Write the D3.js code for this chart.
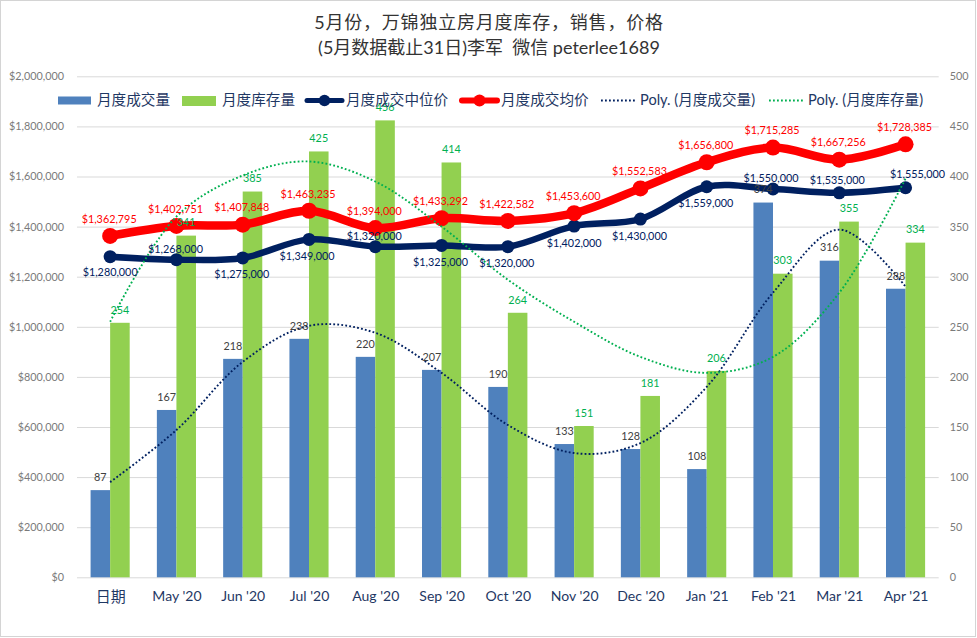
<!DOCTYPE html>
<html>
<head>
<meta charset="utf-8">
<script src="https://cdn.jsdelivr.net/npm/d3@7"></script>
<style>
	html, body { margin: 0; padding: 0; background: #ffffff; }
	svg { display: block; }
	text { font-family: Lato, "Noto Sans CJK SC", sans-serif; }
</style>
</head>
<body>
<div id="chart"></div>
<script>
var categories = ["日期", "May '20", "Jun '20", "Jul '20", "Aug '20", "Sep '20", "Oct '20", "Nov '20", "Dec '20", "Jan '21", "Feb '21", "Mar '21", "Apr '21"];
var sales = [87, 167, 218, 238, 220, 207, 190, 133, 128, 108, 374, 316, 288];
var inventory = [254, 341, 385, 425, 456, 414, 264, 151, 181, 206, 303, 355, 334];
var medianPrice = [1280000, 1268000, 1275000, 1349000, 1320000, 1325000, 1320000, 1402000, 1430000, 1559000, 1550000, 1535000, 1555000];
var averagePrice = [1362795, 1402751, 1407848, 1463235, 1394000, 1433292, 1422582, 1453600, 1552583, 1656800, 1715285, 1667256, 1728385];
// trend lines, one value per month, secondary axis units
var salesTrend = [95, 147, 215, 251, 244, 204, 152, 124, 134, 190, 284, 347, 290];
var inventoryTrend = [255, 360, 401, 415, 395, 350, 297, 255, 220, 204, 220, 284, 398];
var priceTicks = [0, 200000, 400000, 600000, 800000, 1000000, 1200000, 1400000, 1600000, 1800000, 2000000];
var countTicks = [0, 50, 100, 150, 200, 250, 300, 350, 400, 450, 500];
var titleLines = ["5月份，万锦独立房月度库存，销售，价格", "(5月数据截止31日)李军  微信 peterlee1689"];
var legendNames = ["月度成交量", "月度库存量", "月度成交中位价", "月度成交均价", "Poly. (月度成交量)", "Poly. (月度库存量)"];

var w = 977;
var h = 638;
var left = 77, right = 938.7, top_ = 76.3, bottom = 577.3;

var BLUE = "#4f81bd", GREEN = "#92d050", NAVY = "#002060", RED = "#ff0000", TREND_GREEN = "#00b050";
var LEGEND_TEXT = "#1f3864", AXIS_TEXT = "#7a7a7a", GRID = "#d9d9d9";

var svg = d3.select("#chart")
	.append("svg")
		.attr("width", w)
		.attr("height", h);

// outer chart frame
svg.append("rect")
	.attr("x", 0.5).attr("y", 0.5)
	.attr("width", w - 2).attr("height", h - 2)
	.attr("fill", "#ffffff")
	.attr("stroke", "#d4d4d4");

var x = d3.scaleBand().domain(categories).range([left, right]).paddingInner(0.41).paddingOuter(0.205);
var xSub = d3.scaleBand().domain(["sales", "inventory"]).range([0, x.bandwidth()]);
var yPrice = d3.scaleLinear().domain([0, 2000000]).range([bottom, top_]);
var yCount = d3.scaleLinear().domain([0, 500]).range([bottom, top_]);

function center(i) { return x(categories[i]) + x.bandwidth() / 2; }

// title
svg.selectAll("text.title")
	.data(titleLines)
	.enter()
	.append("text")
		.attr("class", "title")
		.attr("x", 489)
		.attr("y", function(d, i) { return 29 + i * 25; })
		.attr("text-anchor", "middle")
		.attr("font-size", 18)
		.attr("letter-spacing", function(d, i) { return i == 0 ? 0.8 : 0; })
		.attr("fill", "#333333")
		.attr("xml:space", "preserve")
		.text(function(d) { return d; });

// axes and grid
var leftAxis = d3.axisLeft(yPrice).tickValues(priceTicks).tickFormat(d3.format("$,")).tickSize(-(right - left)).tickPadding(13);
var gLeft = svg.append("g").attr("transform", "translate(" + left + ",0)").call(leftAxis);
gLeft.select(".domain").remove();
gLeft.selectAll("line").attr("stroke", GRID).attr("stroke-width", 1);
gLeft.selectAll("text").attr("fill", AXIS_TEXT).attr("font-size", 10.8);

var rightAxis = d3.axisRight(yCount).tickValues(countTicks).tickSize(0).tickPadding(11);
var gRight = svg.append("g").attr("transform", "translate(" + right + ",0)").call(rightAxis);
gRight.select(".domain").remove();
gRight.selectAll("text").attr("fill", AXIS_TEXT).attr("font-size", 10.8);

var bottomAxis = d3.axisBottom(d3.scalePoint().domain(categories).range([left + (right - left) / 26, right - (right - left) / 26])).tickSize(0).tickPadding(14);
var gBottom = svg.append("g").attr("transform", "translate(0," + bottom + ")").call(bottomAxis);
gBottom.select(".domain").remove();
gBottom.selectAll("text")
	.attr("fill", LEGEND_TEXT)
	.attr("font-size", function(d, i) { return i == 0 ? 15 : 14; });

// bars
svg.selectAll("rect.sales")
	.data(sales)
	.enter()
	.append("rect")
		.attr("class", "sales")
		.attr("x", function(d, i) { return x(categories[i]) + xSub("sales"); })
		.attr("y", function(d) { return yCount(d); })
		.attr("width", xSub.bandwidth())
		.attr("height", function(d) { return bottom - yCount(d); })
		.attr("fill", BLUE);

svg.selectAll("rect.inventory")
	.data(inventory)
	.enter()
	.append("rect")
		.attr("class", "inventory")
		.attr("x", function(d, i) { return x(categories[i]) + xSub("inventory"); })
		.attr("y", function(d) { return yCount(d); })
		.attr("width", xSub.bandwidth())
		.attr("height", function(d) { return bottom - yCount(d); })
		.attr("fill", GREEN);

// price lines
function drawPriceLine(values, color, lineW, r) {
	var line = d3.line()
		.x(function(d, i) { return center(i); })
		.y(function(d) { return yPrice(d); })
		.curve(d3.curveCatmullRom.alpha(0.5));
	svg.append("path")
		.datum(values)
		.attr("d", line)
		.attr("fill", "none")
		.attr("stroke", color)
		.attr("stroke-width", lineW)
		.attr("stroke-linecap", "round");
	svg.append("g").selectAll("circle")
		.data(values)
		.enter()
		.append("circle")
			.attr("cx", function(d, i) { return center(i); })
			.attr("cy", function(d) { return yPrice(d); })
			.attr("r", r)
			.attr("fill", color);
}
drawPriceLine(medianPrice, NAVY, 6.5, 6.5);
drawPriceLine(averagePrice, RED, 8.5, 8);

// trend lines
function drawTrend(values, color) {
	var line = d3.line()
		.x(function(d, i) { return center(i); })
		.y(function(d) { return yCount(d); })
		.curve(d3.curveCatmullRom.alpha(0.5));
	svg.append("path")
		.datum(values)
		.attr("d", line)
		.attr("fill", "none")
		.attr("stroke", color)
		.attr("stroke-width", 1.9)
		.attr("stroke-dasharray", "1.8 2.2");
}
drawTrend(salesTrend, NAVY);
drawTrend(inventoryTrend, TREND_GREEN);

// data labels
var priceFmt = d3.format("$,");
var medianDy = [16, -10, 16, 17, -10, 17, 17, 17, 17, 16, -11, -13, -14];
var medianDx = [0, -1, -1, -2, -1, -1, -1, 0, -1, -1, -2, -2, 12];

function addLabels(values, xFn, yFn, fmt, color, size) {
	svg.append("g").selectAll("text")
		.data(values)
		.enter()
		.append("text")
			.attr("x", xFn)
			.attr("y", yFn)
			.attr("dy", "0.35em")
			.attr("text-anchor", "middle")
			.attr("font-size", size)
			.attr("fill", color)
			.text(fmt);
}
addLabels(sales,
	function(d, i) { return x(categories[i]) + xSub("sales") + xSub.bandwidth() / 2; },
	function(d) { return yCount(d) - 13; },
	function(d) { return d; }, "#404040", 10.8);
addLabels(inventory,
	function(d, i) { return x(categories[i]) + xSub("inventory") + xSub.bandwidth() / 2; },
	function(d) { return yCount(d) - 13; },
	function(d) { return d; }, TREND_GREEN, 10.8);
addLabels(medianPrice,
	function(d, i) { return center(i) + medianDx[i]; },
	function(d, i) { return yPrice(d) + medianDy[i]; },
	priceFmt, NAVY, 10.8);
addLabels(averagePrice,
	function(d, i) { return center(i) - 1; },
	function(d) { return yPrice(d) - 17; },
	priceFmt, RED, 10.8);

// legend
var legendY = 100.5;
var legendTextX = [97, 222, 346, 501, 640, 808];
var legend = svg.append("g");

legend.append("rect").attr("x", 58).attr("y", legendY - 4).attr("width", 33).attr("height", 8).attr("fill", BLUE);
legend.append("rect").attr("x", 182).attr("y", legendY - 4.5).attr("width", 34).attr("height", 10).attr("fill", GREEN);

function legendLine(x0, x1, color, lineW, r) {
	legend.append("line")
		.attr("x1", x0).attr("x2", x1).attr("y1", legendY).attr("y2", legendY)
		.attr("stroke", color).attr("stroke-width", lineW).attr("stroke-linecap", "round");
	legend.append("circle")
		.attr("cx", (x0 + x1) / 2).attr("cy", legendY).attr("r", r).attr("fill", color);
}
legendLine(307, 342, NAVY, 5, 5.8);
legendLine(462, 497, RED, 6, 6);

function legendDots(x0, x1, color) {
	legend.append("line")
		.attr("x1", x0).attr("x2", x1).attr("y1", legendY).attr("y2", legendY)
		.attr("stroke", color).attr("stroke-width", 1.9).attr("stroke-dasharray", "1.8 2.2");
}
legendDots(601, 635, NAVY);
legendDots(769, 803, TREND_GREEN);

legend.selectAll("text")
	.data(legendNames)
	.enter()
	.append("text")
		.attr("x", function(d, i) { return legendTextX[i]; })
		.attr("y", legendY - 1)
		.attr("dy", "0.35em")
		.attr("font-size", 14.6)
		.attr("fill", LEGEND_TEXT)
		.text(function(d) { return d; });
</script>
</body>
</html>
